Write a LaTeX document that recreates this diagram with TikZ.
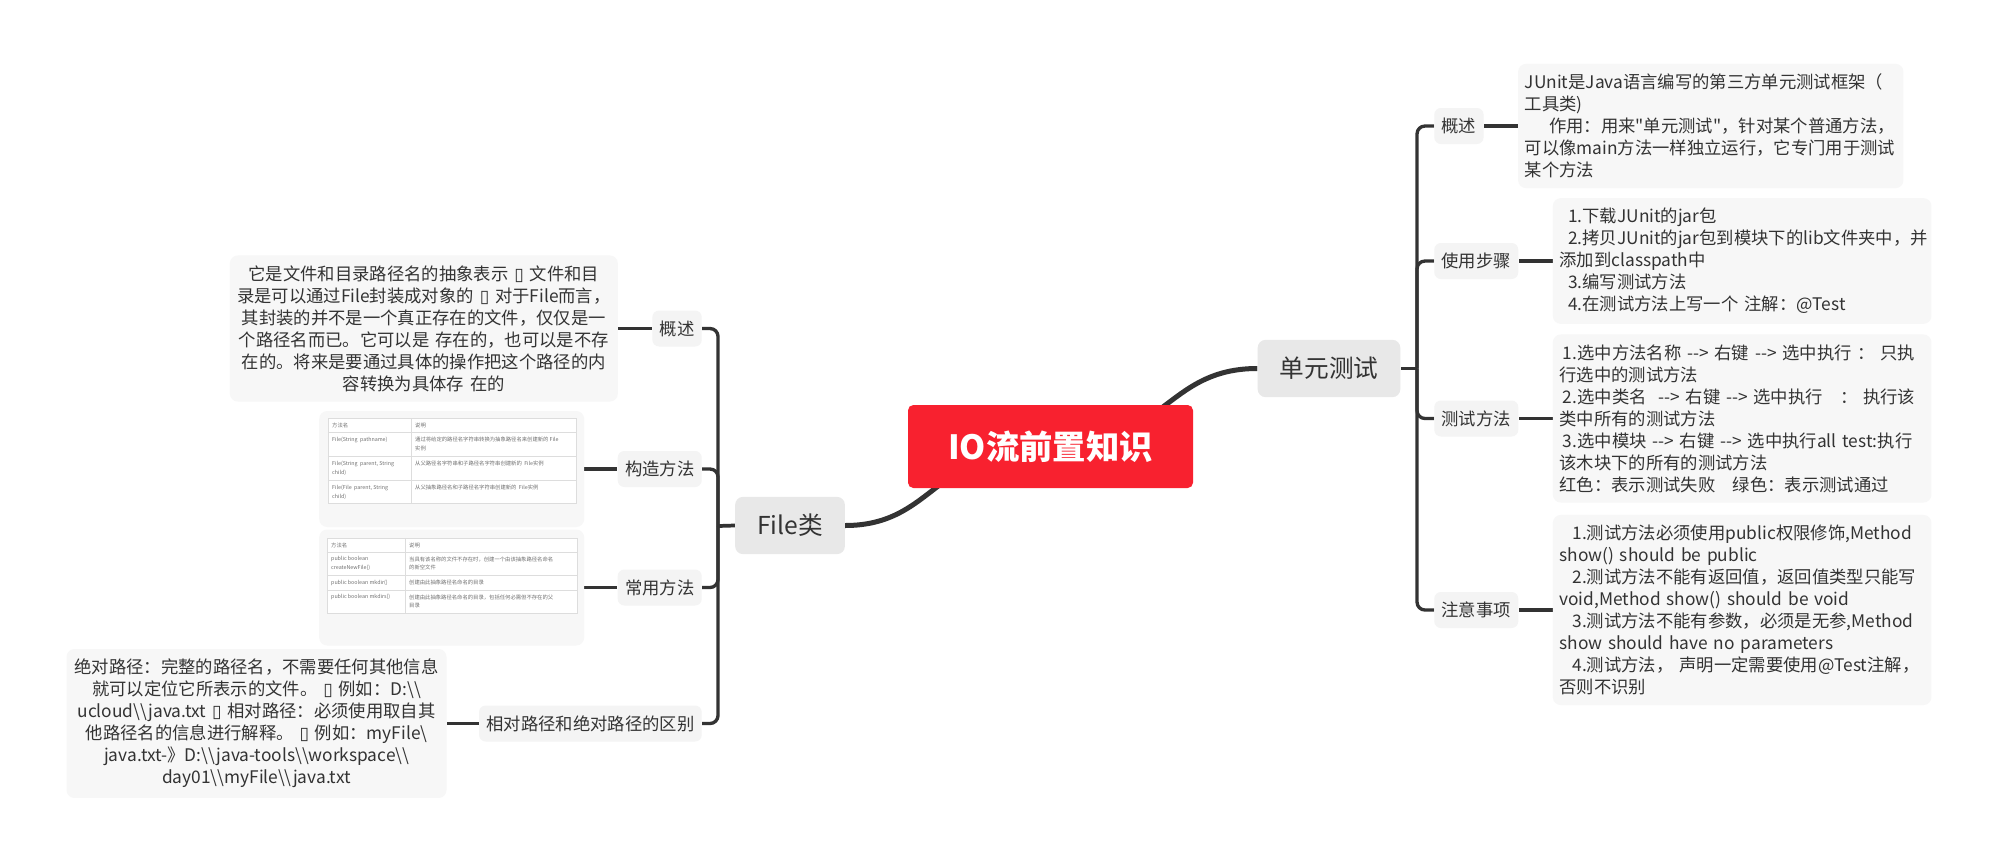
\documentclass[tikz,border=0pt]{standalone}
\usepackage{fontspec}
\setmainfont{Noto Sans CJK SC}
\newfontfamily\qtfont{Noto Sans CJK SC}
\newfontfamily\symfont{DejaVu Sans}
\usetikzlibrary{positioning, backgrounds}
\usepackage{xcolor}
\definecolor{rootred}{HTML}{F8212F}
\definecolor{linedark}{HTML}{333333}
\definecolor{topicgray}{HTML}{E8E8E8}
\definecolor{subgray}{HTML}{F4F4F4}
\definecolor{notegray}{HTML}{F7F7F7}
\definecolor{cardtext}{HTML}{333333}
\definecolor{tabline}{HTML}{DDDDDD}
\definecolor{tabtext}{HTML}{707070}
\newcommand{\bsl}{\textbackslash}
\newcommand{\tofu}{{\symfont ▯}}
\newcommand{\qmark}{{\qtfont\char34}}

\begin{document}
\begin{tikzpicture}[x=0.75pt, y=-0.75pt,
      root/.style={rectangle, rounded corners=4pt, fill=rootred, text=white, minimum width=213.75pt, minimum height=62.25pt, font=\fontsize{25}{30}\selectfont\bfseries},
      topic/.style={rectangle, rounded corners=6pt, fill=topicgray, text=cardtext, minimum height=43pt, inner xsep=16.5pt, font=\fontsize{18.5}{22}\selectfont},
      sub/.style={rectangle, rounded corners=5pt, fill=subgray, text=cardtext, minimum height=27pt, inner xsep=5.5pt, font=\fontsize{13}{16.5}\selectfont},
      note/.style={rectangle, rounded corners=6pt, fill=notegray, text=cardtext, inner xsep=5pt, inner ysep=7.5pt, font=\fontsize{13}{16.5}\selectfont},
      imgbox/.style={rectangle, rounded corners=6pt, fill=notegray, minimum width=198.75pt, minimum height=87pt},
      cell/.style={inner sep=0pt, text=tabtext, align=left, font=\fontsize{4}{6.6}\selectfont},
      grid/.style={tabline, line width=0.5pt},
      trunk/.style={line width=3.75pt, linedark},
      branch/.style={line width=2.5pt, linedark, rounded corners=6pt},
      link/.style={line width=2.8pt, linedark},
    ]
    \useasboundingbox (0,0) rectangle (1993,861);

    \node[root] (root) at (1050.5,446.5) {IO流前置知识};
    \node[topic] (unit) at (1329,368.5) {单元测试};
    \node[topic] (file) at (790,525.5) {File类};

    % File class side
    \node[sub, anchor=east] (fdesc) at (702,328.5) {概述};
    \node[sub, anchor=east] (fctor) at (702,469) {构造方法};
    \node[sub, anchor=east] (fmeth) at (702,587.5) {常用方法};
    \node[sub, anchor=east] (fpath) at (702,723.5) {相对路径和绝对路径的区别};

    \node[note, left=25.5pt of fdesc, text width=281pt, align=center] (fdescn) {它是文件和目录路径名的抽象表示 \tofu{} 文件和目\\录是可以通过File封装成对象的 \tofu{} 对于File而言，\\其封装的并不是一个真正存在的文件，仅仅是一\\个路径名而已。它可以是 存在的，也可以是不存\\在的。将来是要通过具体的操作把这个路径的内\\容转换为具体存 在的};
    \node[imgbox, left=24.75pt of fctor] (fctorn) {};
    \node[imgbox, left=24.75pt of fmeth] (fmethn) {};
    \node[note, left=24pt of fpath, text width=275pt, align=center] (fpathn) {绝对路径：完整的路径名，不需要任何其他信息\\就可以定位它所表示的文件。 \tofu{} 例如：D:\bsl\bsl\\ucloud\bsl\bsl java.txt \tofu{} 相对路径：必须使用取自其\\他路径名的信息进行解释。 \tofu{} 例如：myFile\bsl\\java.txt-》D:\bsl\bsl java-tools\bsl\bsl workspace\bsl\bsl\\day01\bsl\bsl myFile\bsl\bsl java.txt};

    \begin{scope}[shift={(fctorn.north west)}]
      \draw[grid, fill=white] (9,8) rectangle (257,93);
      \draw[grid] (92,8) -- (92,93) (9,22) -- (257,22) (9,46) -- (257,46) (9,70) -- (257,70);
      \node[cell, anchor=west] (ca0) at (13,15) {方法名};
      \node[cell, anchor=west] (cb0) at (96,15) {说明};
      \node[cell, anchor=north west] (ca1) at (13,26) {File(String \ pathname)};
      \node[cell, anchor=north west] (cb1) at (96,26) {通过将给定的路径名字符串转换为抽象路径名来创建新的 File\\实例};
      \node[cell, anchor=north west] (ca2) at (13,50) {File(String \ parent, String\\child)};
      \node[cell, anchor=north west] (cb2) at (96,50) {从父路径名字符串和子路径名字符串创建新的 \ File实例};
      \node[cell, anchor=north west] (ca3) at (13,74) {File(File \ parent, String\\child)};
      \node[cell, anchor=north west] (cb3) at (96,74) {从父抽象路径名和子路径名字符串创建新的 \ File实例};
    \end{scope}

    \begin{scope}[shift={(fmethn.north west)}]
      \draw[grid, fill=white] (8,9) rectangle (258,84);
      \draw[grid] (86,9) -- (86,84) (8,23) -- (258,23) (8,46) -- (258,46) (8,61) -- (258,61);
      \node[cell, anchor=west] (da0) at (12,16) {方法名};
      \node[cell, anchor=west] (db0) at (90,16) {说明};
      \node[cell, anchor=north west] (da1) at (12,27) {public boolean\\createNewFile()};
      \node[cell, anchor=north west] (db1) at (90,27) {当具有该名称的文件不存在时，创建一个由该抽象路径名命名\\的新空文件};
      \node[cell, anchor=west] (da2) at (12,53.5) {public boolean mkdir()};
      \node[cell, anchor=west] (db2) at (90,53.5) {创建由此抽象路径名命名的目录};
      \node[cell, anchor=north west] (da3) at (12,65) {public boolean mkdirs()};
      \node[cell, anchor=north west] (db3) at (90,65) {创建由此抽象路径名命名的目录，包括任何必需但不存在的父\\目录};
    \end{scope}

    % unit test side
    \node[sub, anchor=west] (udesc) at (1434,126) {概述};
    \node[sub, anchor=west] (ustep) at (1434,261) {使用步骤};
    \node[sub, anchor=west] (utest) at (1434,418.5) {测试方法};
    \node[sub, anchor=west] (unote) at (1434,610) {注意事项};

    \node[note, right=25.5pt of udesc, text width=279pt, align=left] (udescn) {JUnit是Java语言编写的第三方单元测试框架（\\工具类)\\\hspace*{1.4em}作用：用来\qmark{}单元测试\qmark{}，针对某个普通方法，\\可以像main方法一样独立运行，它专门用于测试\\某个方法};
    \node[note, right=25.5pt of ustep, text width=274pt, align=left] (ustepn) {\hspace*{0.5em}1.下载JUnit的jar包\\\hspace*{0.5em}\mbox{2.拷贝JUnit的jar包到模块下的lib文件夹中，并}\\添加到classpath中\\\hspace*{0.5em}3.编写测试方法\\\hspace*{0.5em}4.在测试方法上写一个 注解：@Test};
    \node[note, right=25.5pt of utest, text width=274pt, align=left] (utestn) {\hspace*{0.2em}1.选中方法名称 -{}-> 右键 -{}-> 选中执行 ： 只执\\行选中的测试方法\\\hspace*{0.2em}2.选中类名 \ -{}-> 右键 -{}-> 选中执行 \ \ ： 执行该\\类中所有的测试方法\\\hspace*{0.2em}3.选中模块 -{}-> 右键 -{}-> 选中执行all test:执行\\该木块下的所有的测试方法\\红色：表示测试失败 \ \ 绿色：表示测试通过};
    \node[note, right=25.5pt of unote, text width=274pt, align=left] (unoten) {\hspace*{0.75em}1.测试方法必须使用public权限修饰,Method\\show() should be public\\\hspace*{0.75em}2.测试方法不能有返回值，返回值类型只能写\\void,Method show() should be void\\\hspace*{0.75em}3.测试方法不能有参数，必须是无参,Method\\show should have no parameters\\\hspace*{0.75em}4.测试方法， 声明一定需要使用@Test注解，\\否则不识别};

    \coordinate (lspine) at (718,526);
    \coordinate (rspine) at (1417,368.5);

    \begin{scope}[on background layer]
      \fill[white] (0,0) rectangle (1993,861);
      \draw[trunk] (root.center) .. controls (1165,446.5) and (1165,368.5) .. (unit.west);
      \draw[trunk] (root.center) .. controls (935,446.5) and (935,525.5) .. (file.east);

      \draw[link] (lspine) -- (file.west);
      \draw[branch] (fdesc.east) -| (lspine);
      \draw[branch] (fctor.east) -| (lspine);
      \draw[branch] (fmeth.east) -| (lspine);
      \draw[branch] (fpath.east) -| (lspine);

      \draw[link] (rspine) -- (unit.east);
      \draw[branch] (udesc.west) -| (rspine);
      \draw[branch] (ustep.west) -| (rspine);
      \draw[branch] (utest.west) -| (rspine);
      \draw[branch] (unote.west) -| (rspine);

      \draw[link] (fdescn.east) -- (fdesc.west);
      \draw[link] (fctorn.east) -- (fctor.west);
      \draw[link] (fmethn.east) -- (fmeth.west);
      \draw[link] (fpathn.east) -- (fpath.west);
      \draw[link] (udescn.west) -- (udesc.east);
      \draw[link] (ustepn.west) -- (ustep.east);
      \draw[link] (utestn.west) -- (utest.east);
      \draw[link] (unoten.west) -- (unote.east);
    \end{scope}
  \end{tikzpicture}
\end{document}
